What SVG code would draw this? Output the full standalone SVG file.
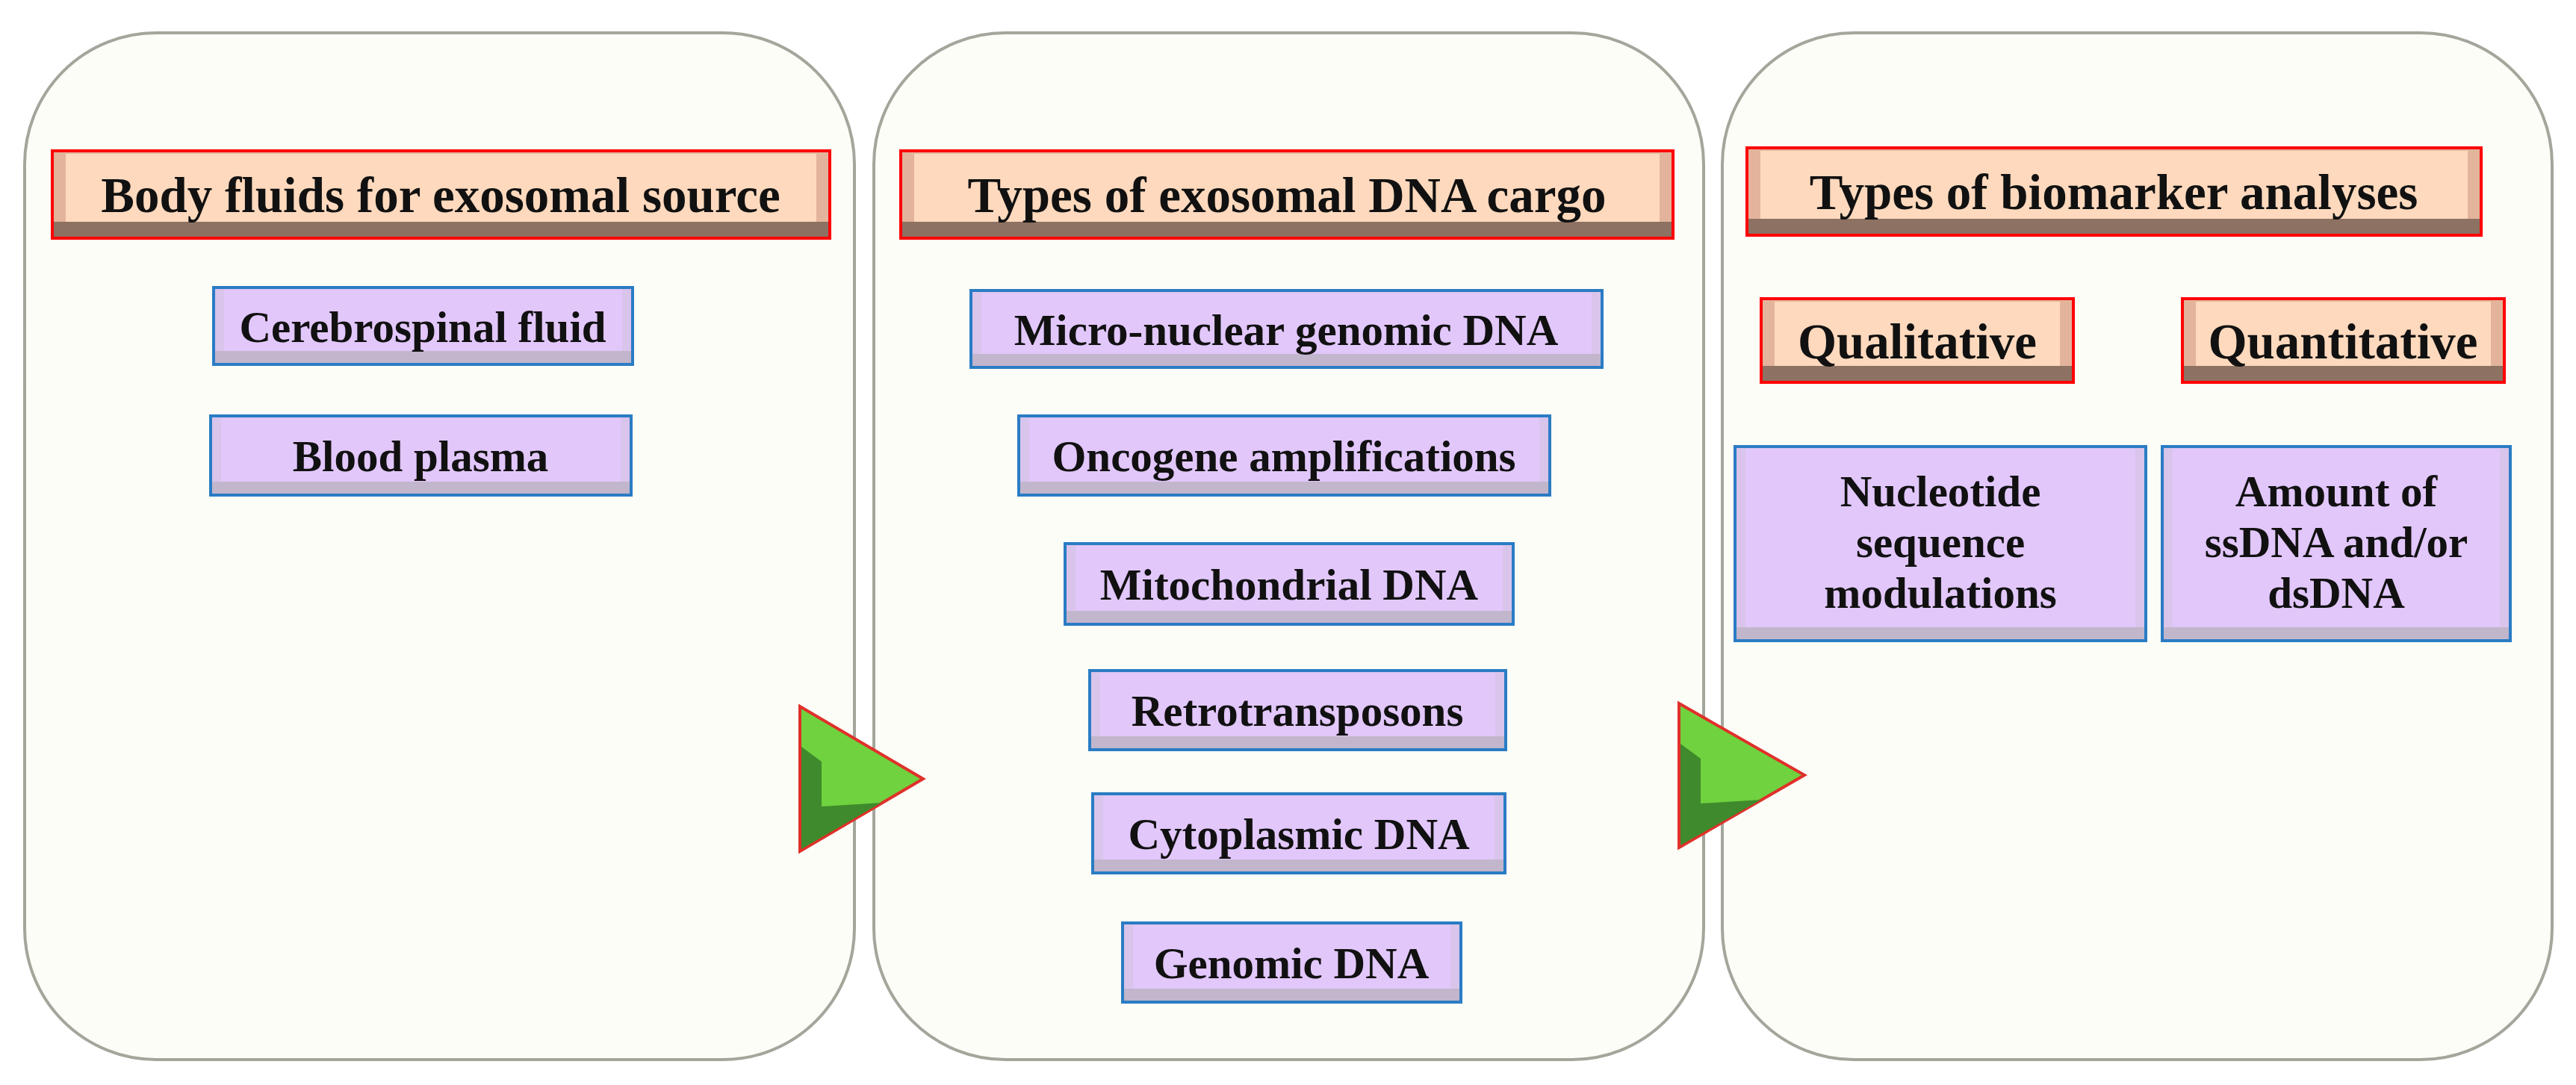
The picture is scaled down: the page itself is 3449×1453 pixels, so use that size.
<svg xmlns="http://www.w3.org/2000/svg" width="3449" height="1453" viewBox="0 0 3449 1453">
<style>
.panel{fill:#fdfdf8;stroke:#a3a69a;stroke-width:4}
.hs{fill:#e3b49b}.hb{fill:#8d7162}.hf{fill:#ffd9bd}.ho{fill:none;stroke:#f00;stroke-width:4}
.ps{fill:#d9c4ec}.pb{fill:#c2b6cc}.pf{fill:#e2c7fb}.po{fill:none;stroke:#2a7cc4;stroke-width:4}
text{font-family:"Liberation Serif","DejaVu Serif",serif;fill:#111;text-anchor:middle;font-weight:bold}
.h{font-size:67px}.t{font-size:59px}
</style>
<rect width="3449" height="1453" fill="#fff"/>
<g id="panel1"><rect class="panel" x="33" y="44" width="1111" height="1375" rx="176"/></g>
<g id="panel2"><rect class="panel" x="1170" y="44" width="1111" height="1375" rx="176"/></g>
<g id="panel3"><rect class="panel" x="2306" y="44" width="1111" height="1375" rx="176"/></g>

<g id="h1"><rect class="hs" x="70" y="202" width="1041" height="117"/><rect class="hb" x="70" y="297" width="1041" height="22"/><rect class="hf" x="88" y="206" width="1005" height="91"/><rect class="ho" x="70" y="202" width="1041" height="117"/><text class="h" x="590" y="284">Body fluids for exosomal source</text></g>
<g id="h2"><rect class="hs" x="1206" y="202" width="1034" height="117"/><rect class="hb" x="1206" y="297" width="1034" height="22"/><rect class="hf" x="1224" y="206" width="998" height="91"/><rect class="ho" x="1206" y="202" width="1034" height="117"/><text class="h" x="1723" y="284">Types of  exosomal DNA cargo</text></g>
<g id="h3"><rect class="hs" x="2339" y="198" width="983" height="117"/><rect class="hb" x="2339" y="293" width="983" height="22"/><rect class="hf" x="2357" y="202" width="947" height="91"/><rect class="ho" x="2339" y="198" width="983" height="117"/><text class="h" x="2830" y="280">Types of  biomarker analyses</text></g>
<g id="qual"><rect class="hs" x="2358" y="400" width="418" height="112"/><rect class="hb" x="2358" y="490" width="418" height="22"/><rect class="hf" x="2376" y="404" width="382" height="86"/><rect class="ho" x="2358" y="400" width="418" height="112"/><text class="h" x="2567" y="480">Qualitative</text></g>
<g id="quant"><rect class="hs" x="2922" y="400" width="431" height="112"/><rect class="hb" x="2922" y="490" width="431" height="22"/><rect class="hf" x="2940" y="404" width="395" height="86"/><rect class="ho" x="2922" y="400" width="431" height="112"/><text class="h" x="3137" y="480">Quantitative</text></g>

<g id="b1"><rect class="ps" x="286" y="385" width="561" height="103"/><rect class="pb" x="286" y="470" width="561" height="18"/><rect class="pf" x="300" y="388" width="533" height="82"/><rect class="po" x="286" y="385" width="561" height="103"/><text class="t" x="566" y="458">Cerebrospinal fluid</text></g>
<g id="b2"><rect class="ps" x="282" y="557" width="563" height="106"/><rect class="pb" x="282" y="645" width="563" height="18"/><rect class="pf" x="296" y="560" width="535" height="85"/><rect class="po" x="282" y="557" width="563" height="106"/><text class="t" x="563" y="631">Blood plasma</text></g>
<g id="c1"><rect class="ps" x="1300" y="389" width="845" height="103"/><rect class="pb" x="1300" y="474" width="845" height="18"/><rect class="pf" x="1314" y="392" width="817" height="82"/><rect class="po" x="1300" y="389" width="845" height="103"/><text class="t" x="1722" y="462">Micro-nuclear genomic DNA</text></g>
<g id="c2"><rect class="ps" x="1364" y="557" width="711" height="106"/><rect class="pb" x="1364" y="645" width="711" height="18"/><rect class="pf" x="1378" y="560" width="683" height="85"/><rect class="po" x="1364" y="557" width="711" height="106"/><text class="t" x="1719" y="631">Oncogene amplifications</text></g>
<g id="c3"><rect class="ps" x="1426" y="728" width="600" height="108"/><rect class="pb" x="1426" y="818" width="600" height="18"/><rect class="pf" x="1440" y="731" width="572" height="87"/><rect class="po" x="1426" y="728" width="600" height="108"/><text class="t" x="1726" y="803">Mitochondrial DNA</text></g>
<g id="c4"><rect class="ps" x="1459" y="898" width="557" height="106"/><rect class="pb" x="1459" y="986" width="557" height="18"/><rect class="pf" x="1473" y="901" width="529" height="85"/><rect class="po" x="1459" y="898" width="557" height="106"/><text class="t" x="1737" y="972">Retrotransposons</text></g>
<g id="c5"><rect class="ps" x="1463" y="1063" width="552" height="106"/><rect class="pb" x="1463" y="1151" width="552" height="18"/><rect class="pf" x="1477" y="1066" width="524" height="85"/><rect class="po" x="1463" y="1063" width="552" height="106"/><text class="t" x="1739" y="1137">Cytoplasmic DNA</text></g>
<g id="c6"><rect class="ps" x="1503" y="1236" width="453" height="106"/><rect class="pb" x="1503" y="1324" width="453" height="18"/><rect class="pf" x="1517" y="1239" width="425" height="85"/><rect class="po" x="1503" y="1236" width="453" height="106"/><text class="t" x="1729" y="1310">Genomic DNA</text></g>
<g id="d1"><rect class="ps" x="2323" y="598" width="550" height="260"/><rect class="pb" x="2323" y="840" width="550" height="18"/><rect class="pf" x="2337" y="601" width="522" height="239"/><rect class="po" x="2323" y="598" width="550" height="260"/><text class="t" x="2598" y="678">Nucleotide</text><text class="t" x="2598" y="746">sequence</text><text class="t" x="2598" y="814">modulations</text></g>
<g id="d2"><rect class="ps" x="2895" y="598" width="466" height="260"/><rect class="pb" x="2895" y="840" width="466" height="18"/><rect class="pf" x="2909" y="601" width="438" height="239"/><rect class="po" x="2895" y="598" width="466" height="260"/><text class="t" x="3128" y="678">Amount of</text><text class="t" x="3128" y="746">ssDNA and/or</text><text class="t" x="3128" y="814">dsDNA</text></g>

<g id="connectors">
<polygon points="1071,946 1071,1140 1236,1043" fill="#6fd23e" stroke="#e0302a" stroke-width="4"/>
<polygon points="1073,1000 1100,1020 1100,1080 1180,1075 1073,1137" fill="#3f8a2c"/>
<polygon points="2248,942 2248,1135 2416,1038" fill="#6fd23e" stroke="#e0302a" stroke-width="4"/>
<polygon points="2250,996 2277,1016 2277,1076 2358,1071 2250,1132" fill="#3f8a2c"/>
</g>
</svg>
